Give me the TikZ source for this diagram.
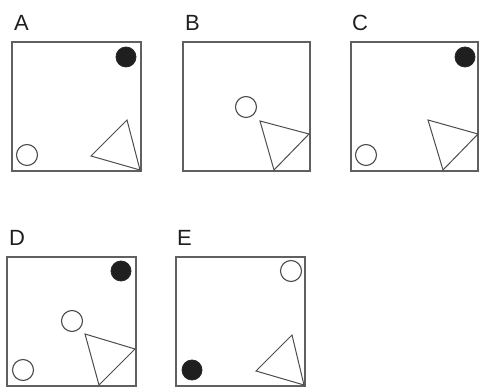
\documentclass[tikz,border=0pt]{standalone}
\usepackage{fontspec}
\setmainfont{Liberation Sans}
\begin{document}
\begin{tikzpicture}[x=1pt,y=1pt,
  frame/.style={draw=gray!75!black,line width=1.4pt},
  tri/.style={draw=gray!60!black,line width=1pt,line join=miter},
  wcirc/.style={draw=gray!60!black,line width=1.1pt,fill=white},
  bcirc/.style={draw=black!85,fill=black!88,line width=0.8pt},
  lab/.style={text=black!88,font=\fontsize{22}{22}\selectfont,inner sep=0pt,anchor=base west}]
\useasboundingbox (0,0) rectangle (481,387);
% image y -> 387 - y
% Panel A: box left 12, bottom 171
\begin{scope}[shift={(12,216)}]
  \draw[frame] (0,0) rectangle (129,129);
  \fill[bcirc] (114,114) circle (10);
  \draw[wcirc] (15,16) circle (10.5);
  \draw[tri] (115,51) -- (79,15) -- (128,1) -- cycle;
  \node[lab] (la) at (2,140) {A};
\end{scope}
% Panel B
\begin{scope}[shift={(183,216)}]
  \draw[frame] (0,0) rectangle (127,129);
  \draw[wcirc] (63,64) circle (10.5);
  \draw[tri] (77,50) -- (126,37) -- (91,1) -- cycle;
  \node[lab] (lb) at (2,140) {B};
\end{scope}
% Panel C
\begin{scope}[shift={(351,216)}]
  \draw[frame] (0,0) rectangle (127,129);
  \fill[bcirc] (114,114) circle (10);
  \draw[wcirc] (15,16) circle (10.5);
  \draw[tri] (77,51) -- (127,37) -- (92,1) -- cycle;
  \node[lab] (lc) at (1,140) {C};
\end{scope}
% Panel D
\begin{scope}[shift={(7,1)}]
  \draw[frame] (0,0) rectangle (129,129);
  \fill[bcirc] (114,115) circle (10);
  \draw[wcirc] (65,65) circle (10.5);
  \draw[wcirc] (16,16) circle (10.5);
  \draw[tri] (78,52) -- (128,37) -- (92,1) -- cycle;
  \node[lab] (ld) at (2,140) {D};
\end{scope}
% Panel E
\begin{scope}[shift={(176,1)}]
  \draw[frame] (0,0) rectangle (129,129);
  \draw[wcirc] (115,115) circle (10.5);
  \fill[bcirc] (16,16) circle (10);
  \draw[tri] (116,51) -- (80,15) -- (128,1) -- cycle;
  \node[lab] (le) at (1,140) {E};
\end{scope}
\end{tikzpicture}
\end{document}
